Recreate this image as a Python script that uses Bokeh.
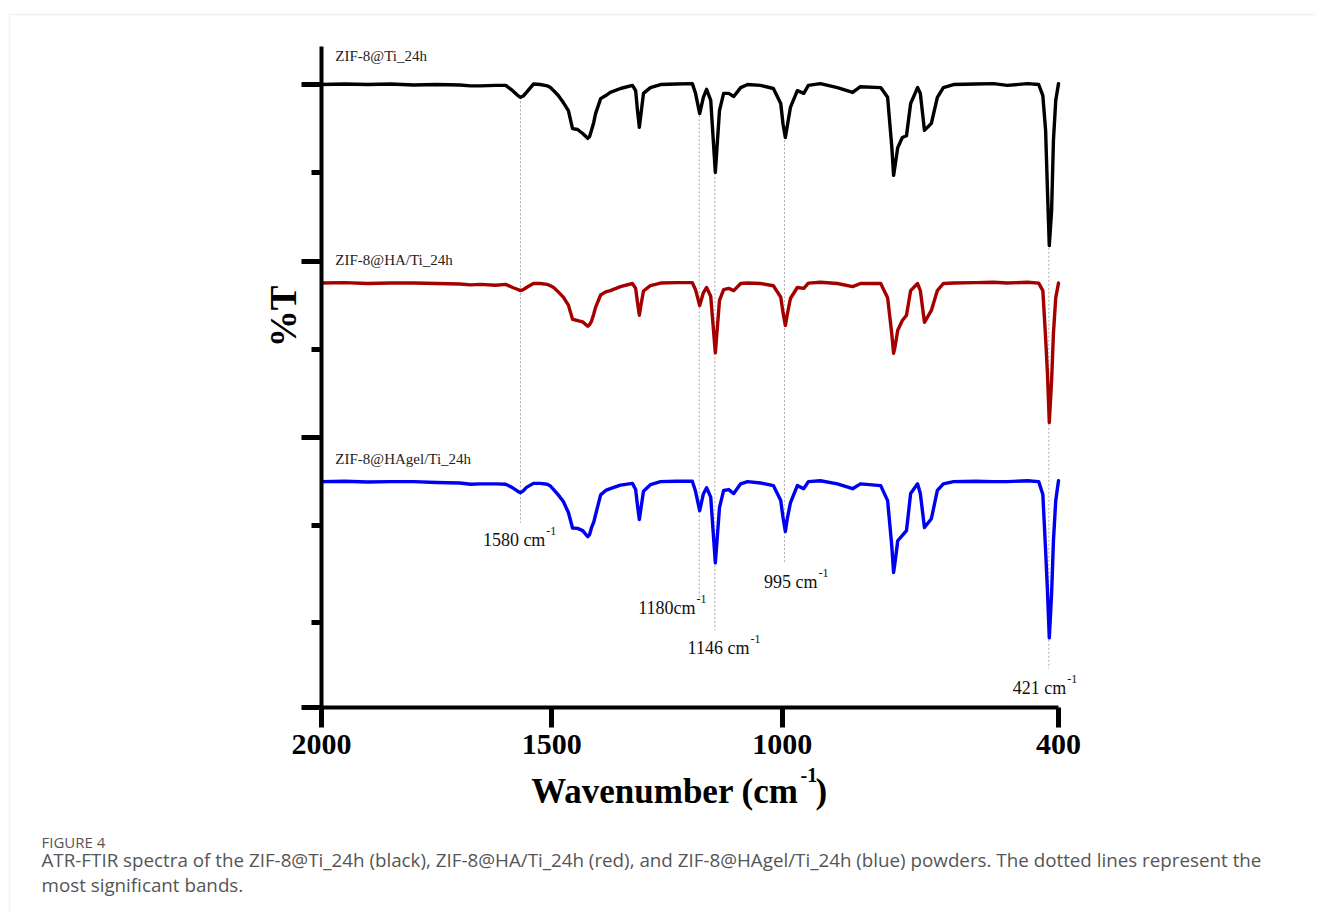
import numpy as np
from bokeh.plotting import figure
from bokeh.models import FixedTicker, Label, BoxAnnotation, Range1d
from bokeh.embed import file_html
from bokeh.resources import INLINE

# ---------------- data ----------------
wavenumber = [2000, 1950, 1900, 1850, 1800, 1750, 1700, 1676, 1655, 1622,
              1600, 1585, 1575, 1568, 1562, 1555, 1540, 1525, 1510, 1503,
              1496, 1486, 1475, 1464, 1455, 1444, 1433, 1422, 1418, 1414,
              1409, 1405, 1394, 1383, 1373, 1351, 1325, 1318, 1314, 1310,
              1306, 1301, 1286, 1264, 1230, 1195, 1188, 1179, 1171, 1164,
              1155, 1145, 1136, 1127, 1116, 1105, 1090, 1075, 1047, 1019,
              1003, 998, 993, 989, 982, 967, 953, 943, 917, 880,
              847, 830, 786, 771, 762, 758, 755, 749, 739, 730,
              721, 706, 700, 691, 676, 663, 650, 628, 580, 541,
              511, 467, 443, 434, 428, 424, 420, 415, 411, 406,
              400]

t_zif8_ti = [100.0, 100.1, 100.0, 100.1, 99.9, 100.0, 99.9, 99.7, 99.7, 99.8,
             99.8, 98.6, 97.6, 97.1, 97.4, 98.2, 100.1, 100.0, 99.7, 99.3,
             98.6, 97.5, 95.9, 94.1, 90.0, 89.8, 88.9, 87.8, 88.2, 89.6,
             91.4, 93.4, 96.8, 97.5, 98.2, 99.1, 99.8, 98.6, 94.1, 90.3,
             93.7, 98.0, 99.3, 100.0, 100.1, 100.2, 98.0, 93.4, 97.1, 98.9,
             96.4, 80.1, 94.1, 98.0, 98.0, 97.3, 99.3, 100.0, 99.8, 99.1,
             95.7, 91.0, 88.0, 90.5, 94.8, 98.6, 98.0, 99.8, 100.2, 99.3,
             98.2, 99.5, 99.3, 97.1, 86.0, 79.4, 81.5, 85.7, 88.0, 88.4,
             95.7, 99.3, 98.0, 89.6, 91.2, 97.1, 99.3, 100.0, 100.1, 100.2,
             99.8, 100.2, 100.0, 97.5, 89.6, 76.0, 63.5, 71.4, 87.3, 96.4,
             100.2]

t_zif8_ha_ti = [100.0, 100.1, 99.9, 100.0, 100.0, 99.9, 99.8, 99.6, 99.7, 99.5,
                99.7, 99.0, 98.6, 98.3, 98.5, 99.0, 99.9, 99.9, 99.7, 99.4,
                99.0, 98.0, 96.8, 95.0, 91.8, 91.5, 91.2, 90.2, 90.6, 91.3,
                93.0, 94.5, 97.3, 98.0, 98.3, 99.2, 99.9, 98.8, 95.6, 92.7,
                95.3, 98.2, 99.4, 100.0, 100.1, 100.1, 98.5, 94.9, 97.8, 99.0,
                97.0, 84.2, 96.1, 98.5, 98.8, 98.3, 99.9, 100.0, 99.9, 99.4,
                96.8, 93.3, 90.4, 92.8, 96.5, 99.0, 98.8, 100.0, 100.2, 99.9,
                99.2, 99.9, 99.9, 96.7, 88.5, 84.1, 85.5, 89.3, 91.5, 92.7,
                98.3, 99.9, 98.3, 91.1, 93.8, 98.3, 99.9, 100.0, 100.1, 100.2,
                100.0, 100.2, 100.0, 98.3, 87.6, 79.5, 68.4, 77.9, 88.6, 96.7,
                100.0]

t_zif8_hagel_ti = [100.0, 100.1, 99.9, 100.0, 100.0, 99.8, 99.7, 99.4, 99.5, 99.5,
                   99.4, 98.6, 97.9, 97.5, 97.9, 98.7, 99.6, 99.6, 99.4, 99.0,
                   98.2, 97.0, 95.5, 93.0, 89.5, 89.4, 88.9, 87.5, 88.0, 89.5,
                   90.8, 92.5, 97.0, 98.0, 98.4, 99.2, 99.6, 98.2, 94.6, 91.4,
                   94.3, 97.8, 99.3, 100.0, 100.1, 100.1, 97.8, 93.4, 97.2, 98.6,
                   96.5, 81.6, 94.1, 98.0, 98.2, 97.3, 99.5, 100.0, 99.7, 99.1,
                   95.7, 91.8, 88.7, 91.5, 95.2, 99.1, 98.4, 100.0, 100.2, 99.5,
                   98.4, 99.5, 99.1, 95.7, 85.5, 79.4, 81.6, 86.6, 87.8, 88.9,
                   97.3, 99.5, 97.3, 89.6, 91.6, 98.0, 99.5, 100.0, 100.1, 100.0,
                   100.0, 100.2, 100.0, 97.1, 84.4, 75.3, 64.6, 74.6, 86.6, 95.7,
                   100.2]

series_names = ["ZIF-8@Ti_24h", "ZIF-8@HA/Ti_24h", "ZIF-8@HAgel/Ti_24h"]
series_colors = ["#000000", "#a50000", "#0000f0"]

band_positions = [1568, 1180, 1146, 995, 421]
band_labels = ["1580 cm", "1180cm", "1146 cm", "995 cm", "421 cm"]
x_ticks = [2000, 1500, 1000, 400]

caption_title = "FIGURE 4"
caption_lines = ["ATR-FTIR spectra of the ZIF-8@Ti_24h (black), ZIF-8@HA/Ti_24h (red), and "
                 "ZIF-8@HAgel/Ti_24h (blue) powders. The dotted lines represent the",
                 "most significant bands."]

# ---------------- layout / style settings ----------------
offsets = [0.0, -45.0, -90.0]                 # vertical stacking of the spectra
name_label_y = [105.2, 58.8, 13.7]
band_line_bottom = [0.7, -16.3, -23.7, -8.6, -32.4]
band_label_x = [1514, 1188, 1071, 923, 383]
band_label_y = [-4.7, -20.1, -29.0, -14.0, -38.2]
Y_BOTTOM, Y_TOP = -41.2, 108.6                # extent of the drawn y axis

SERIF = "Liberation Serif"

# The frame fills the whole canvas; axes are drawn at fixed locations inside it so that
# titles, caption and band labels that lie outside the data area are not clipped.
p = figure(frame_width=1316, frame_height=912, title=None,
           min_border_left=0, min_border_right=0, min_border_top=0, min_border_bottom=0,
           x_range=Range1d(2696.9, -160.1), y_range=Range1d(-87.65, 119.04),
           output_backend="svg", toolbar_location=None, background_fill_color="white",
           border_fill_color="white")
p.outline_line_color = None
p.grid.visible = False

# axes
p.xaxis.ticker = FixedTicker(ticks=x_ticks)
p.xaxis.bounds = (400, 2000)
p.xaxis.fixed_location = Y_BOTTOM
p.yaxis.ticker = FixedTicker(ticks=[100, 60, 20, Y_BOTTOM], minor_ticks=[80, 40, 0, -21.9])
p.yaxis.bounds = (Y_BOTTOM - 0.05, Y_TOP)
p.yaxis.fixed_location = 2000
for ax in (p.xaxis, p.yaxis):
    ax.axis_line_width = 4
    ax.axis_line_color = "black"
    ax.major_tick_line_width = 5
    ax.major_tick_line_color = "black"
    ax.minor_tick_line_width = 5
    ax.minor_tick_line_color = "black"
    ax.major_tick_in = 0
    ax.major_tick_out = 20
    ax.minor_tick_in = 0
    ax.minor_tick_out = 10
p.xaxis.minor_tick_line_color = None
p.yaxis.major_label_text_font_size = "0px"
p.yaxis.major_label_text_color = None
p.xaxis.major_label_text_font = SERIF
p.xaxis.major_label_text_font_style = "bold"
p.xaxis.major_label_text_font_size = "30px"
p.xaxis.major_label_text_color = "black"
p.xaxis.major_label_standoff = 7

# dotted band lines (drawn below spectra)
for pos, bottom in zip(band_positions, band_line_bottom):
    top = float(np.interp(pos, wavenumber[::-1], t_zif8_ti[::-1])) + offsets[0]
    p.segment(x0=[pos], y0=[top], x1=[pos], y1=[bottom], line_color="#a8a8a8",
              line_width=1, line_dash="2 2")

# spectra
for vals, off, col in zip([t_zif8_ti, t_zif8_ha_ti, t_zif8_hagel_ti], offsets, series_colors):
    p.line(wavenumber, [v + off for v in vals], line_color=col, line_width=3.4,
           line_join="round", line_cap="round")

# series names
for name, y in zip(series_names, name_label_y):
    p.add_layout(Label(x=1970, y=y, y_offset=6, text=name, text_font=SERIF, text_font_size="15px",
                       text_color="#222222", text_baseline="alphabetic"))

# band labels with superscript -1
for txt, x, y in zip(band_labels, band_label_x, band_label_y):
    p.add_layout(Label(x=x, y=y, y_offset=6, text=txt, text_font=SERIF, text_font_size="18px",
                       text_color="#111111", text_align="right", text_baseline="alphabetic"))
    p.add_layout(Label(x=x, y=y, x_offset=1, y_offset=15, text="-1", text_font=SERIF,
                       text_font_size="12px", text_color="#111111", text_align="left",
                       text_baseline="alphabetic"))

# axis titles
p.add_layout(Label(x=2082.5, y=47.42, angle=np.pi / 2, text="%T", text_font=SERIF,
                   text_font_style="bold", text_font_size="37px", text_color="black",
                   text_align="center", text_baseline="middle"))
p.add_layout(Label(x=964.4, y=-62.95, y_offset=12, text="Wavenumber (cm", text_font=SERIF,
                   text_font_style="bold", text_font_size="35px", text_color="black",
                   text_align="right", text_baseline="alphabetic"))
p.add_layout(Label(x=964.4, y=-62.95, x_offset=2, y_offset=29, text="-1", text_font=SERIF,
                   text_font_style="bold", text_font_size="20px", text_color="black",
                   text_align="left", text_baseline="alphabetic"))
p.add_layout(Label(x=964.4, y=-62.95, x_offset=17, y_offset=12, text=")", text_font=SERIF,
                   text_font_style="bold", text_font_size="35px", text_color="black",
                   text_align="left", text_baseline="alphabetic"))

# card border (top and left edges visible)
p.add_layout(BoxAnnotation(left=2677.3, right=-600, top=115.86, bottom=-300,
                           fill_alpha=0, line_color="#cfcfcf", line_width=1.5))

# caption
p.add_layout(Label(x=2607.9, y=-73.14, y_offset=6, text=caption_title, text_font="Open Sans",
                   text_font_size="15px", text_color="#555555", text_baseline="alphabetic"))
for line, y in zip(caption_lines, [-77.45, -83.11]):
    p.add_layout(Label(x=2607.9, y=y, y_offset=7, text=line, text_font="Open Sans",
                       text_font_size="18.8px", text_color="#555555",
                       text_baseline="alphabetic"))

open("out.html", "w").write(file_html(p, INLINE))
